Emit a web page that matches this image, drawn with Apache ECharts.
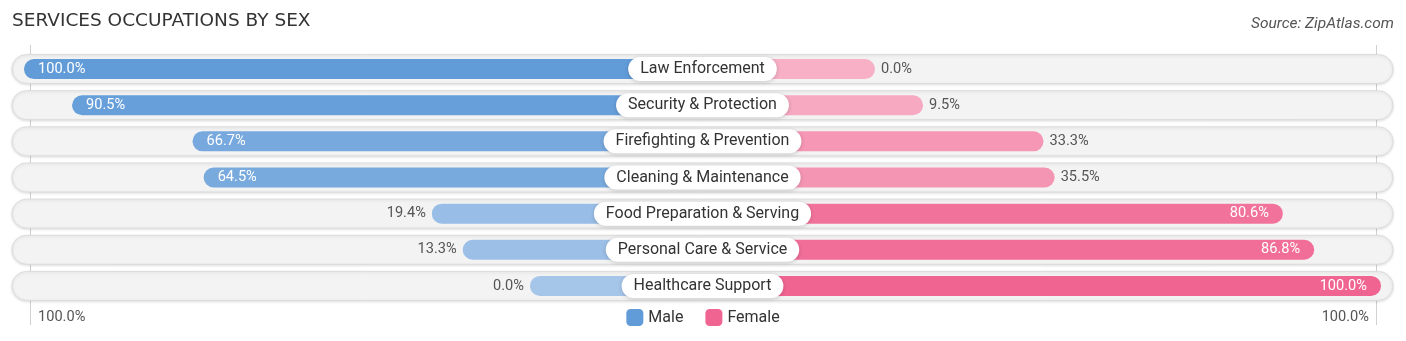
<!DOCTYPE html>
<html>
<head>
<meta charset="utf-8">
<script src="https://cdn.jsdelivr.net/npm/echarts@6/dist/echarts.min.js"></script>
<style>
html,body{margin:0;padding:0;background:#fff;}
#chart{width:1406px;height:341px;}
</style>
</head>
<body>
<div id="chart"></div>
<script>
const categories = ['Law Enforcement','Security & Protection','Firefighting & Prevention','Cleaning & Maintenance','Food Preparation & Serving','Personal Care & Service','Healthcare Support'];
const maleValues = [100, 90.5, 66.7, 64.5, 19.4, 13.3, 0];
const femaleValues = [0, 9.5, 33.3, 35.5, 80.6, 86.8, 100];
const bottomLabels = ['100.0%', '100.0%'];
const legendNames = ['Male', 'Female'];

const OFFSET = 34.09;      // room reserved for the centre label
const AXIS_MAX = 136.46;
const FONT = 'Roboto, "Noto Sans", sans-serif';

function lerpColor(a, b, t) {
  const r = Math.round(a[0] + (b[0] - a[0]) * t);
  const g = Math.round(a[1] + (b[1] - a[1]) * t);
  const bl = Math.round(a[2] + (b[2] - a[2]) * t);
  return 'rgb(' + r + ',' + g + ',' + bl + ')';
}
const maleLight = [165, 197, 233], maleDark = [97, 155, 216];
const femLight = [247, 176, 198], femDark = [240, 100, 146];

function makeData(values, sign, light, dark) {
  return values.map(function (v) {
    const inside = v >= 50;
    return {
      value: sign * (v + OFFSET),
      itemStyle: { color: lerpColor(light, dark, v / 100) },
      label: {
        show: true,
        position: sign < 0 ? (inside ? 'insideLeft' : 'left') : (inside ? 'insideRight' : 'right'),
        distance: inside ? 14 : 6,
        color: inside ? '#fff' : '#555',
        fontSize: 14.6,
        fontFamily: FONT,
        formatter: v.toFixed(1) + '%'
      }
    };
  });
}

const chart = echarts.init(document.getElementById('chart'), null, { renderer: 'canvas' });

const option = {
  animation: false,
  title: [
    { text: 'SERVICES OCCUPATIONS BY SEX', left: 12, top: 12, padding: 0,
      textStyle: { fontSize: 18.5, fontWeight: 'normal', color: '#333', fontFamily: '"DejaVu Sans", sans-serif' } },
    { text: 'Source: ZipAtlas.com', right: 12, top: 16, padding: 0,
      textStyle: { fontSize: 15.5, fontWeight: 'normal', fontStyle: 'italic', color: '#555', fontFamily: FONT } }
  ],
  legend: {
    data: legendNames,
    left: 'center',
    top: 304,
    icon: 'roundRect',
    itemWidth: 17,
    itemHeight: 17,
    itemGap: 22,
    textStyle: { fontSize: 16, color: '#333', fontFamily: FONT }
  },
  grid: { left: 12, right: 13, top: 51, height: 253 },
  xAxis: {
    type: 'value', min: -AXIS_MAX, max: AXIS_MAX,
    show: false, splitLine: { show: false }
  },
  yAxis: {
    type: 'category', data: categories, inverse: true, show: false
  },
  series: [
    {
      type: 'custom',
      name: 'bg',
      z: 1,
      silent: true,
      data: categories.map(function (c, i) { return [0, i]; }),
      encode: { x: 0, y: 1 },
      renderItem: function (params, api) {
        const pt = api.coord([0, api.value(1)]);
        const cs = params.coordSys;
        const h = 29;
        return {
          type: 'rect',
          shape: { x: cs.x, y: pt[1] - h / 2, width: cs.width, height: h, r: h / 2 },
          style: {
            fill: '#f3f3f3', stroke: '#dcdcdc', lineWidth: 1,
            shadowBlur: 3, shadowColor: 'rgba(0,0,0,0.12)', shadowOffsetY: 1
          }
        };
      }
    },
    {
      type: 'bar', name: 'Male', z: 3,
      barWidth: 20, barGap: '-100%',
      itemStyle: { color: 'rgb(97,155,216)', borderRadius: 10 },
      data: makeData(maleValues, -1, maleLight, maleDark)
    },
    {
      type: 'bar', name: 'Female', z: 3,
      barWidth: 20, barGap: '-100%',
      itemStyle: { color: 'rgb(240,100,146)', borderRadius: 10 },
      data: makeData(femaleValues, 1, femLight, femDark)
    },
    {
      type: 'custom', name: 'labels', z: 5,
      silent: true,
      data: categories.map(function (c, i) { return [0, i]; }),
      encode: { x: 0, y: 1 },
      renderItem: function (params, api) {
        const pt = api.coord([0, api.value(1)]);
        return {
          type: 'text',
          x: pt[0], y: pt[1],
          style: {
            text: categories[params.dataIndex],
            align: 'center', verticalAlign: 'middle',
            fontSize: 16, fill: '#333', fontFamily: FONT, lineHeight: 18,
            backgroundColor: '#fff', borderRadius: 12, padding: [3, 12, 3, 12],
            shadowBlur: 4, shadowColor: 'rgba(0,0,0,0.18)', shadowOffsetY: 1
          }
        };
      }
    }
  ]
};
chart.setOption(option);

// decorations placed through the axis scale
const leftEnd = chart.convertToPixel({ gridIndex: 0 }, [-(100 + OFFSET), 0])[0];
const rightEnd = chart.convertToPixel({ gridIndex: 0 }, [(100 + OFFSET), 0])[0];
chart.setOption({
  graphic: [
    { type: 'line', z: 0, shape: { x1: leftEnd + 6.5, y1: 45, x2: leftEnd + 6.5, y2: 325 }, style: { stroke: '#d0d0d0', lineWidth: 1 } },
    { type: 'line', z: 0, shape: { x1: rightEnd - 4.5, y1: 45, x2: rightEnd - 4.5, y2: 325 }, style: { stroke: '#d0d0d0', lineWidth: 1 } },
    { type: 'text', left: leftEnd + 14, top: 310, style: { text: bottomLabels[0], fontSize: 14.6, fill: '#555', fontFamily: FONT } },
    { type: 'text', right: 1406 - rightEnd + 12, top: 310, style: { text: bottomLabels[1], fontSize: 14.6, fill: '#555', fontFamily: FONT } }
  ]
});
</script>
</body>
</html>
